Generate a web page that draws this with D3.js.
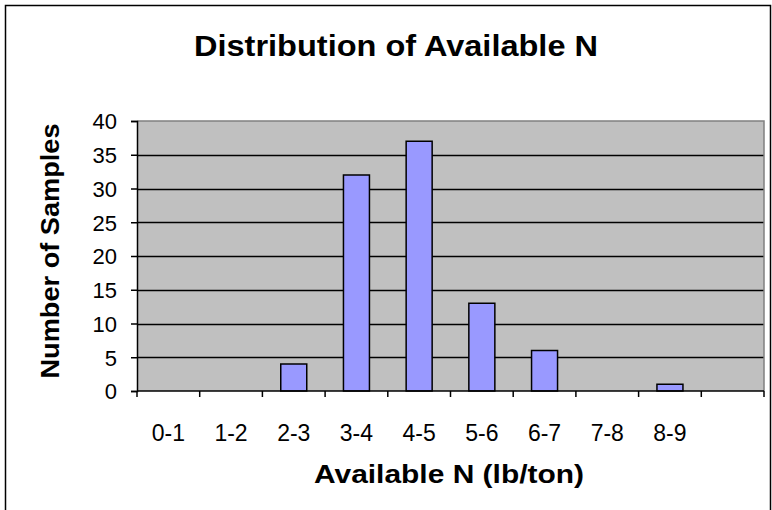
<!DOCTYPE html>
<html>
<head>
<meta charset="utf-8">
<script src="https://cdn.jsdelivr.net/npm/d3@7"></script>
<style>
  body { margin: 0; background: #fff; }
  text { font-family: "Liberation Sans", Arial, sans-serif; fill: #000; }
</style>
</head>
<body>
<svg id="chart" width="772" height="510"></svg>
<script>
// Category bins (last slot has no label)
const categories = ["0-1", "1-2", "2-3", "3-4", "4-5", "5-6", "6-7", "7-8", "8-9", ""];
// Number of samples in each bin
const counts = [0, 0, 4, 32, 37, 13, 6, 0, 1, 0];
const yTicks = [0, 5, 10, 15, 20, 25, 30, 35, 40];

const svg = d3.select("#chart");

// Outer chart border
svg.append("rect")
    .attr("x", 5.5).attr("y", 5.5)
    .attr("width", 765).attr("height", 510)
    .attr("fill", "#fff")
    .attr("stroke", "#000")
    .attr("stroke-width", 1.5);

const plot = { left: 137, right: 764, top: 121, bottom: 391 };

const x = d3.scaleBand()
    .domain(d3.range(categories.length))
    .range([plot.left, plot.right])
    .paddingInner(0)
    .paddingOuter(0);

const y = d3.scaleLinear()
    .domain([0, 40])
    .range([plot.bottom, plot.top]);

// Plot area background
svg.append("rect")
    .attr("x", plot.left).attr("y", plot.top)
    .attr("width", plot.right - plot.left)
    .attr("height", plot.bottom - plot.top)
    .attr("fill", "#C0C0C0");

// Gridlines
svg.append("g")
    .selectAll("line")
    .data(yTicks.filter(d => d > 0 && d < 40))
    .enter()
    .append("line")
    .attr("x1", plot.left).attr("x2", plot.right)
    .attr("y1", d => Math.round(y(d)) + 0.5)
    .attr("y2", d => Math.round(y(d)) + 0.5)
    .attr("stroke", "#000")
    .attr("stroke-width", 1.3);

// Gray top / right border of the plot area
svg.append("path")
    .attr("d", `M${plot.left},${plot.top} H${plot.right} V${plot.bottom}`)
    .attr("fill", "none")
    .attr("stroke", "#808080")
    .attr("stroke-width", 1.5);

// Bars
const barW = 26;
svg.append("g")
    .selectAll("rect")
    .data(counts.map((v, i) => ({ i, v })).filter(d => d.v > 0))
    .enter()
    .append("rect")
    .attr("x", d => x(d.i) + x.bandwidth() / 2 - barW / 2)
    .attr("y", d => y(d.v))
    .attr("width", barW)
    .attr("height", d => y(0) - y(d.v))
    .attr("fill", "#9999FF")
    .attr("stroke", "#000")
    .attr("stroke-width", 1.5);

// Y axis
const yAxis = svg.append("g")
    .attr("transform", `translate(${plot.left},0)`)
    .call(d3.axisLeft(y).tickValues(yTicks).tickSize(6).tickPadding(14));
yAxis.select(".domain").attr("stroke", "#000").attr("stroke-width", 1.5);
yAxis.selectAll(".tick line").attr("stroke", "#000").attr("stroke-width", 1.5);
yAxis.selectAll(".tick text")
    .style("font-family", "'Liberation Sans', Arial, sans-serif")
    .style("font-size", "22px")
    .attr("dy", "0.36em");

// X axis: ticks at category boundaries
const xAxis = svg.append("g").attr("transform", `translate(0,${plot.bottom})`);
xAxis.append("line")
    .attr("x1", plot.left).attr("x2", plot.right)
    .attr("y1", 0).attr("y2", 0)
    .attr("stroke", "#000").attr("stroke-width", 1.5);
xAxis.selectAll(".xtick")
    .data(d3.range(categories.length + 1))
    .enter()
    .append("line")
    .attr("x1", i => i < categories.length ? x(i) : plot.right)
    .attr("x2", i => i < categories.length ? x(i) : plot.right)
    .attr("y1", 0).attr("y2", 6)
    .attr("stroke", "#000").attr("stroke-width", 1.5);
xAxis.selectAll(".xlabel")
    .data(categories)
    .enter()
    .append("text")
    .attr("x", (d, i) => x(i) + x.bandwidth() / 2)
    .attr("y", 50)
    .attr("text-anchor", "middle")
    .style("font-size", "23px")
    .text(d => d);

// Title
svg.append("text")
    .attr("x", 396).attr("y", 56)
    .attr("text-anchor", "middle")
    .attr("textLength", 404)
    .attr("lengthAdjust", "spacingAndGlyphs")
    .style("font-size", "29px")
    .style("font-weight", "bold")
    .text("Distribution of Available N");

// Axis titles
svg.append("text")
    .attr("x", 449).attr("y", 483)
    .attr("text-anchor", "middle")
    .attr("textLength", 270)
    .attr("lengthAdjust", "spacingAndGlyphs")
    .style("font-size", "25px")
    .style("font-weight", "bold")
    .text("Available N (lb/ton)");

svg.append("text")
    .attr("transform", "translate(59,251) rotate(-90)")
    .attr("text-anchor", "middle")
    .attr("textLength", 255)
    .attr("lengthAdjust", "spacingAndGlyphs")
    .style("font-size", "25px")
    .style("font-weight", "bold")
    .text("Number of Samples");
</script>
</body>
</html>
